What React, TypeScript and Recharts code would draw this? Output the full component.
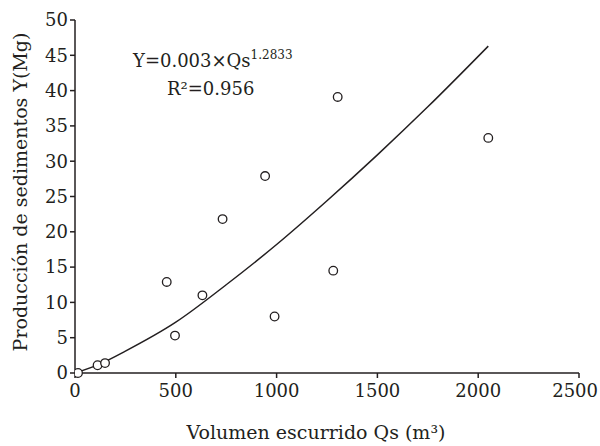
import { ComposedChart, XAxis, YAxis, Scatter, Line } from "recharts";

const qsObs = [15, 112, 149, 455, 496, 632, 732, 943, 990, 1281, 1303, 2050];
const yObs = [0, 1.1, 1.4, 12.9, 5.3, 11.0, 21.8, 27.9, 8.0, 14.5, 39.1, 33.3];

// fitted curve
const qsFit = [0, 125, 250, 500, 750, 1000, 1250, 1500, 1750, 2050];
const yFit = [0, 1.3, 3.1, 7.2, 12.5, 18.2, 24.4, 30.9, 37.7, 46.3];

const xTicks = [0, 500, 1000, 1500, 2000, 2500];
const yTicks = [0, 5, 10, 15, 20, 25, 30, 35, 40, 45, 50];

const points = qsObs.map((q, i) => ({ x: q, y: yObs[i] }));
const curve = qsFit.map((q, i) => ({ x: q, y: yFit[i] }));

const ink = "#231f20";
const serif = "DejaVu Serif";

// keeps the last label inside the picture
function XTick(props: any) {
  const { x, y, payload } = props;
  const last = payload.value === xTicks[xTicks.length - 1];
  return (
    <text
      x={last ? 598 : x}
      y={y + 17}
      textAnchor={last ? "end" : "middle"}
      fontSize={18}
      fill={ink}
      fontFamily={serif}
    >
      {payload.value}
    </text>
  );
}

function App() {
  return (
    <div style={{ position: "absolute", left: 0, top: 0, background: "#fff" }}>
      <ComposedChart width={600} height={446} margin={{ top: 20, right: 21, bottom: 43, left: 30 }}>
        <XAxis
          type="number"
          dataKey="x"
          domain={[0, 2500]}
          ticks={xTicks}
          height={30}
          tick={<XTick />}
          tickSize={5}
          axisLine={{ stroke: ink, strokeWidth: 1.5 }}
          tickLine={{ stroke: ink, strokeWidth: 1.5 }}
          allowDataOverflow
        />
        <YAxis
          type="number"
          dataKey="y"
          domain={[0, 50]}
          ticks={yTicks}
          width={45}
          tick={{ fontSize: 18, fill: ink, fontFamily: serif }}
          tickSize={5}
          axisLine={{ stroke: ink, strokeWidth: 1.5 }}
          tickLine={{ stroke: ink, strokeWidth: 1.5 }}
        />
        <Line
          data={curve}
          dataKey="y"
          type="monotone"
          stroke={ink}
          strokeWidth={1.5}
          dot={false}
          activeDot={false}
          isAnimationActive={false}
        />
        <Scatter
          data={points}
          dataKey="y"
          shape={(p: any) => <circle cx={p.cx} cy={p.cy} r={4.3} fill="#fff" stroke={ink} strokeWidth={1.3} />}
          isAnimationActive={false}
        />
        <text x={133} y={67} fontSize={18} fill={ink} fontFamily={serif}>
          Y=0.003×Qs
          <tspan dy={-8} fontSize={12}>1.2833</tspan>
        </text>
        <text x={167} y={95} fontSize={18} fill={ink} fontFamily={serif}>
          R²=0.956
        </text>
        <text x={316} y={439} textAnchor="middle" fontSize={19} fill={ink} fontFamily={serif}>
          Volumen escurrido Qs (m³)
        </text>
        <text
          x={20}
          y={192}
          textAnchor="middle"
          transform="rotate(-90 20 192)"
          dominantBaseline="central"
          fontSize={19}
          fill={ink}
          fontFamily={serif}
        >
          Producción de sedimentos Y(Mg)
        </text>
      </ComposedChart>
    </div>
  );
}

export default App;
